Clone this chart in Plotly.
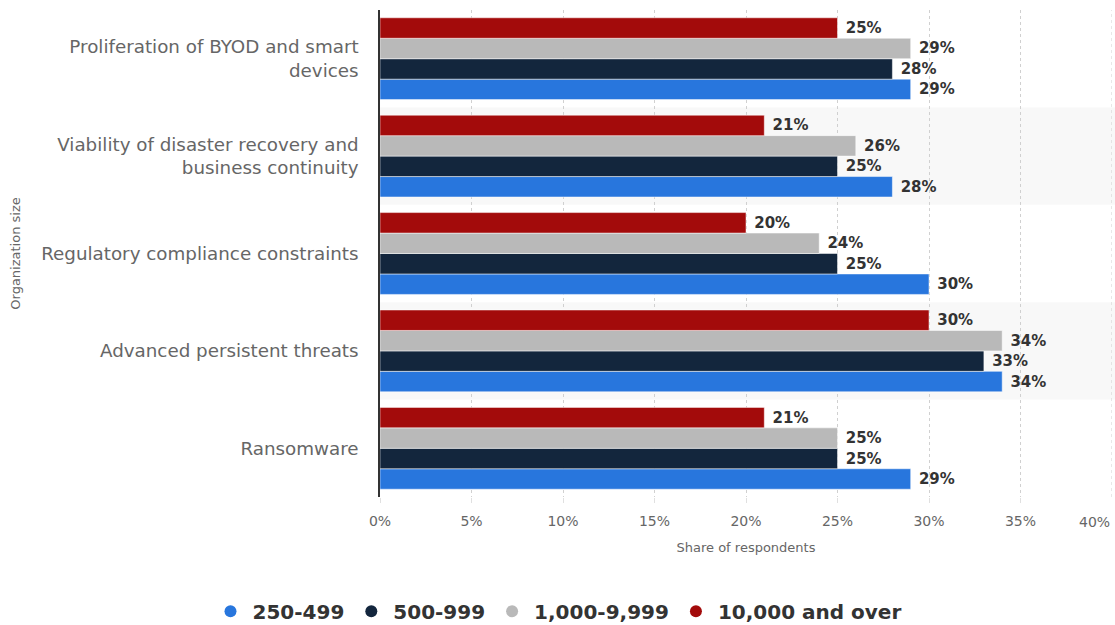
import plotly.graph_objects as go

categories = [
    "Proliferation of BYOD and smart<br>devices",
    "Viability of disaster recovery and<br>business continuity",
    "Regulatory compliance constraints",
    "Advanced persistent threats",
    "Ransomware",
]
series_names = ["250-499", "500-999", "1,000-9,999", "10,000 and over"]
values_250_499 = [29, 28, 30, 34, 29]
values_500_999 = [28, 25, 25, 33, 25]
values_1000_9999 = [29, 26, 24, 34, 25]
values_10000_over = [25, 21, 20, 30, 21]
colors = ["#2876dd", "#13263d", "#b9b9b9", "#a30b0b"]
x_ticks = [0, 5, 10, 15, 20, 25, 30, 35, 40]

series_values = [values_250_499, values_500_999, values_1000_9999, values_10000_over]

# Plot categories bottom-to-top so first trace lies at bottom of each group
cats_rev = categories[::-1]

fig = go.Figure()
for name, vals, col in zip(series_names, series_values, colors):
    vr = vals[::-1]
    fig.add_trace(go.Bar(
        y=cats_rev, x=vr, orientation="h", name=name,
        marker=dict(color=col, line=dict(color="white", width=0.5)),
        text=[f"\u00a0{v}%" for v in vr], textposition="outside",
        outsidetextfont=dict(family="DejaVu Sans", size=15, color="#333333", weight="bold"),
        constraintext="none", cliponaxis=False, showlegend=False,
        hoverinfo="skip",
    ))
# legend entries with circle markers
for name, col in zip(series_names, colors):
    fig.add_trace(go.Scatter(
        x=[None], y=[None], mode="markers", name=name,
        marker=dict(symbol="circle", size=16, color=col),
        showlegend=True,
    ))

# alternating band shading
shapes = []
for i, c in enumerate(categories):
    if i % 2 == 1:
        pos = len(categories) - 1 - i
        shapes.append(dict(type="rect", xref="paper", yref="y", x0=0, x1=1.01,
                           y0=pos - 0.5, y1=pos + 0.5, fillcolor="#f8f8f8",
                           line=dict(width=0), layer="below"))
# dotted grid line at 40%
shapes.append(dict(type="line", xref="x", yref="paper", x0=40, x1=40, y0=0, y1=1,
                   line=dict(color="#d0d0d0", width=1, dash="dot"), layer="below"))

fig.update_layout(
    width=1115, height=625,
    margin=dict(l=380, r=3, t=10, b=128, autoexpand=False),
    paper_bgcolor="white", plot_bgcolor="white",
    barmode="group", bargap=0.16, bargroupgap=0.0,
    shapes=shapes,
    font=dict(family="DejaVu Sans", color="#666666"),
    legend=dict(orientation="h", xref="container", yref="container",
                x=0.5, xanchor="center", y=0.022, yanchor="middle",
                font=dict(size=20, color="#333333", weight="bold"),
                itemsizing="constant", itemwidth=34, tracegroupgap=0),
    annotations=[dict(x=40, y=0, xref="x", yref="paper", text="40%",
                      showarrow=False, xanchor="right", yanchor="top", yshift=-15,
                      font=dict(family="DejaVu Sans", size=14, color="#666666"))],
)
fig.update_xaxes(
    range=[0, 40], tickvals=x_ticks[:-1], ticktext=[f"{t}%" for t in x_ticks[:-1]],
    showgrid=True, gridcolor="#d0d0d0", griddash="dot", gridwidth=1,
    ticks="outside", ticklen=5, tickcolor="#e0e0e0", ticklabelstandoff=6,
    tickfont=dict(size=14, color="#666666"),
    title=dict(text="Share of respondents", font=dict(size=13, color="#666666"), standoff=15),
    zeroline=False, showline=False, automargin=False,
)
fig.update_yaxes(
    categoryorder="array", categoryarray=cats_rev,
    showline=True, linecolor="#333333", linewidth=1.5,
    ticks="", ticklabelstandoff=16,
    tickfont=dict(size=18.3, color="#666666"),
    title=dict(text="Organization size", font=dict(size=13, color="#666666"), standoff=18),
    showgrid=False, range=[-0.5, 4.5], automargin=False,
)

fig.write_html("out.html", config={"displayModeBar": False},
               post_script="document.body.style.margin='0';")
